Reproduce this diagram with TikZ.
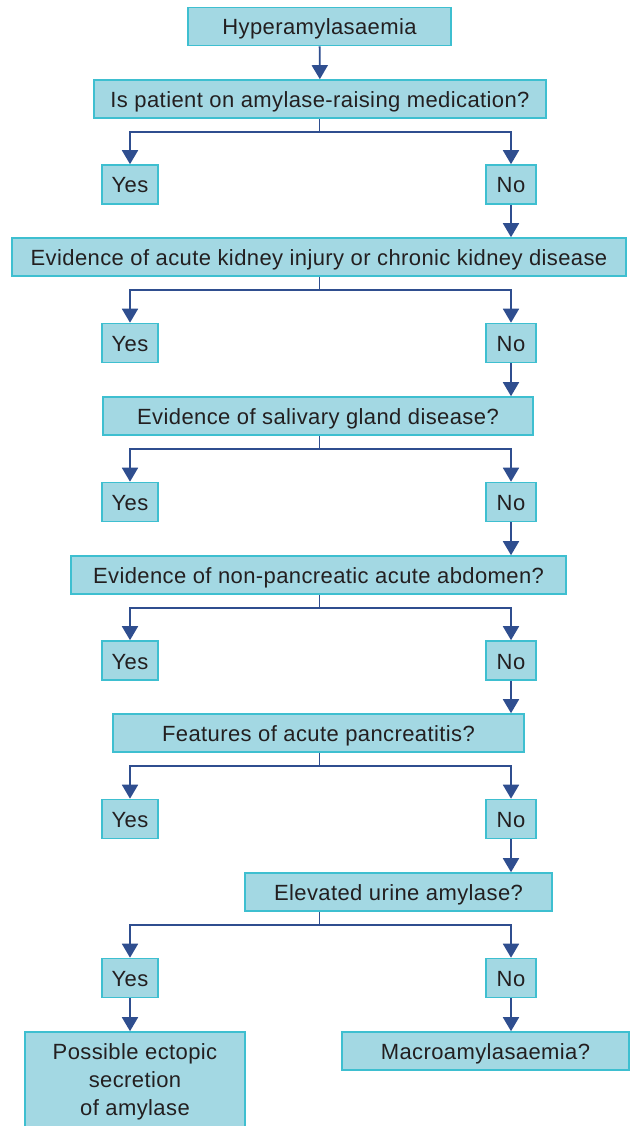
\documentclass[tikz,border=0pt]{standalone}
\usepackage{fontspec}
\setmainfont[LetterSpace=1.8]{Liberation Sans}
\usetikzlibrary{arrows.meta}
\definecolor{boxfill}{HTML}{A3D8E3}
\definecolor{boxline}{HTML}{3EBFD0}
\definecolor{arrowcol}{HTML}{2F4E8F}
\definecolor{txt}{HTML}{231F20}
\tikzset{
  fbox/.style={draw=boxline, fill=boxfill, line width=1.6pt, inner sep=0pt, text=txt,
    font=\fontsize{22}{28}\selectfont, align=center},
  one/.style={text height=22pt, text depth=5pt},
  arr/.style={draw=arrowcol, line width=1.8pt, -{Triangle[width=16pt,length=14pt]}},
  ln/.style={draw=arrowcol, line width=1.8pt}
}
\begin{document}
\begin{tikzpicture}[x=1pt,y=-1pt]
\useasboundingbox (0,0) rectangle (631,1126);
\fill[white] (0,0) rectangle (631,1126);
% questions
\node[fbox, one, minimum width=263pt, minimum height=38pt] (hyp) at (319.5,26.5) {Hyperamylasaemia};
\node[fbox, one, minimum width=452pt, minimum height=38pt] (q1) at (320,99) {Is patient on amylase-raising medication?};
\node[fbox, one, minimum width=614pt, minimum height=38pt] (q2) at (319,257) {Evidence of acute kidney injury or chronic kidney disease};
\node[fbox, one, minimum width=430pt, minimum height=38pt] (q3) at (318,416) {Evidence of salivary gland disease?};
\node[fbox, one, minimum width=495pt, minimum height=38pt] (q4) at (318.5,575) {Evidence of non-pancreatic acute abdomen?};
\node[fbox, one, minimum width=411pt, minimum height=38pt] (q5) at (318.5,733) {Features of acute pancreatitis?};
\node[fbox, one, minimum width=307pt, minimum height=38pt] (q6) at (398.5,892) {Elevated urine amylase?};
% yes/no
\foreach \i/\yy in {1/184.5,2/343,3/502,4/660.5,5/819,6/978}{
  \node[fbox, one, minimum width=56pt, minimum height=39pt] (y\i) at (130,\yy) {Yes};
  \node[fbox, one, minimum width=50pt, minimum height=39pt] (n\i) at (511,\yy) {No};
}
% outcomes
\node[fbox, minimum width=220pt, minimum height=100pt] (ect) at (135,1082) {Possible ectopic\\secretion\\of amylase};
\node[fbox, one, minimum width=287pt, minimum height=38pt] (mac) at (485.5,1051) {Macroamylasaemia?};
% connectors
\draw[arr] (hyp) -- (q1);
\foreach \i in {1,...,6}{
  \draw[ln] (q\i.south -| hyp.south) -- ++(0,13) coordinate (b\i);
  \draw[arr] (b\i) -| (y\i.north);
  \draw[arr] (b\i) -| (n\i.north);
}
\draw[arr] (n1) -- (n1 |- q2.north);
\draw[arr] (n2) -- (n2 |- q3.north);
\draw[arr] (n3) -- (n3 |- q4.north);
\draw[arr] (n4) -- (n4 |- q5.north);
\draw[arr] (n5) -- (q6.north -| n5);
\draw[arr] (y6) -- (y6 |- ect.north);
\draw[arr] (n6) -- (n6 |- mac.north);
\end{tikzpicture}
\end{document}
